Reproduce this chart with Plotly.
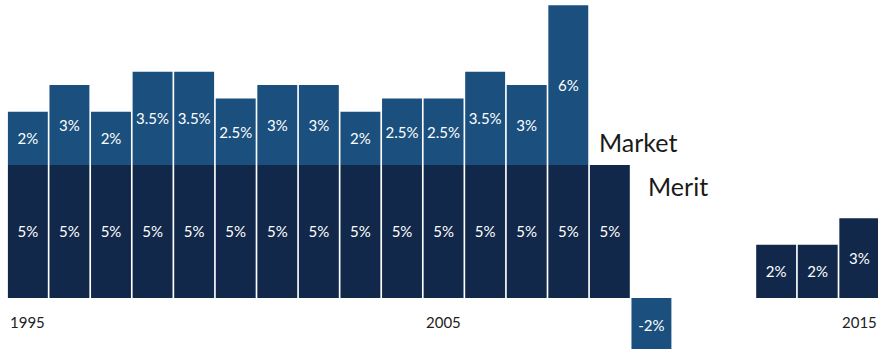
import plotly.graph_objects as go

years = list(range(1995, 2016))
merit = [5] * 15 + [None, None, None, 2, 2, 3]
market = [2, 3, 2, 3.5, 3.5, 2.5, 3, 3, 2, 2.5, 2.5, 3.5, 3, 6, None, -2, None, None, None, None, None]
tick_years = [1995, 2005, 2015]

merit_color = '#11284a'
market_color = '#1a4f7e'
font_family = 'Lato, Open Sans, sans-serif'


def labels(vals):
  return [f'{v:g}%' if v is not None else '' for v in vals]


fig = go.Figure()

fig.add_trace(go.Bar(
  x=years,
  y=merit,
  name='Merit',
  marker=dict(color=merit_color, line=dict(width=0)),
  text=labels(merit),
  textposition='inside',
  insidetextanchor='middle',
  textangle=0,
  textfont=dict(color='white', size=15, family=font_family),
))

fig.add_trace(go.Bar(
  x=years,
  y=market,
  name='Market',
  marker=dict(color=market_color, line=dict(width=0)),
  text=labels(market),
  textposition='inside',
  insidetextanchor='middle',
  textangle=0,
  textfont=dict(color='white', size=15, family=font_family),
))

# year labels under the baseline
for yr in tick_years:
  fig.add_annotation(
    x=yr, y=-0.9, xref='x', yref='y',
    text=str(yr), showarrow=False,
    font=dict(size=15, color='#222222', family=font_family),
  )

# series names next to the 2009 bar
fig.add_annotation(
  x=2008.69, y=5.85, xref='x', yref='y', xanchor='left',
  text='Market', showarrow=False,
  font=dict(size=25, color='#1a1a1a', family=font_family),
)
fig.add_annotation(
  x=2009.87, y=4.2, xref='x', yref='y', xanchor='left',
  text='Merit', showarrow=False,
  font=dict(size=25, color='#1a1a1a', family=font_family),
)

fig.update_layout(
  barmode='relative',
  bargap=0.04,
  showlegend=False,
  width=878,
  height=349,
  paper_bgcolor='white',
  plot_bgcolor='white',
  margin=dict(l=0, r=0, t=0, b=0, pad=0),
  uniformtext=dict(mode='show', minsize=10),
)

fig.update_xaxes(
  range=[1994.33, 2015.45],
  showticklabels=False,
  showgrid=False,
  zeroline=False,
  showline=False,
)
fig.update_yaxes(
  range=[-1.92, 11.2],
  showticklabels=False,
  showgrid=False,
  zeroline=False,
  showline=False,
)

# drop the browser's default body margin so the chart fills the window
fig.write_html(
  'out.html',
  config=dict(displayModeBar=False),
  post_script="document.body.style.margin='0';",
)
